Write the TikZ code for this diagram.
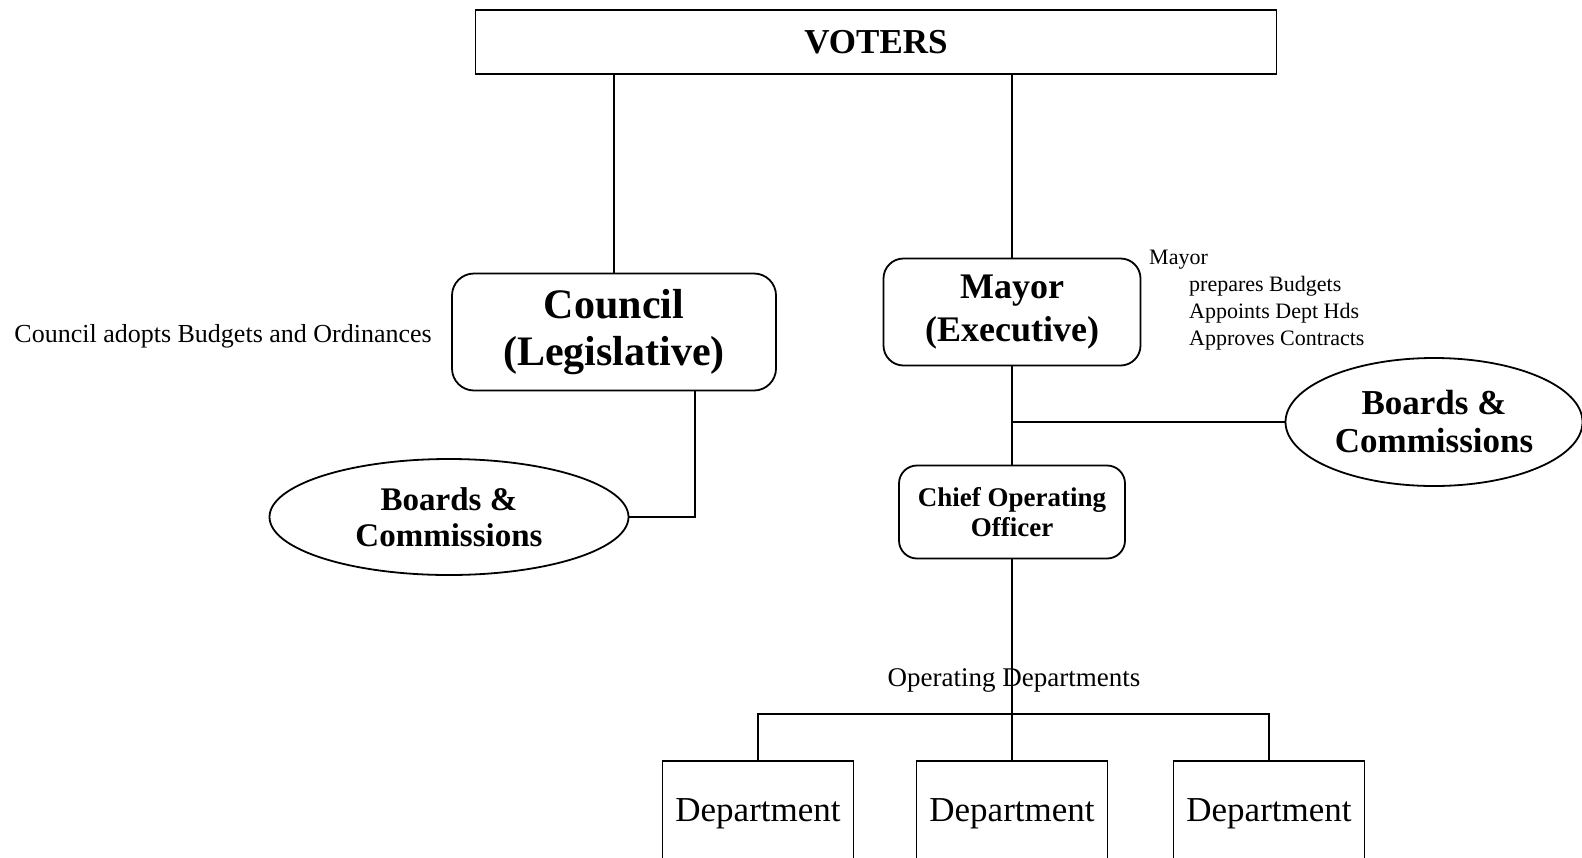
\documentclass[tikz,border=0pt]{standalone}
\usepackage{fontspec}
\setmainfont{Liberation Serif}
\usetikzlibrary{shapes.geometric,calc}
\tikzstyle{box}=[draw,line width=1.8pt,align=center,inner sep=0pt]
\tikzstyle{office}=[box,rounded corners=22pt]
\tikzstyle{board}=[box,ellipse]
\tikzstyle{wire}=[line width=1.8pt]
\tikzstyle{note}=[inner sep=0pt,align=left]
\newcommand{\fsz}[2]{\fontsize{#1}{#2}\selectfont} % size and line spacing, in pt
\newcommand{\duty}{\hspace*{40pt}} % indent for the mayor's duties

\begin{document}
\begin{tikzpicture}[x=1pt,y=-1pt]
\clip (0,0) rectangle (1582,857);
% top
\node[box,minimum width=801pt,minimum height=64pt,font=\fsz{35}{40}\bfseries] (voters) at (876,42) {VOTERS};
% the two branches
\node[office,minimum width=324pt,minimum height=117pt,font=\fsz{42}{47}\bfseries] (council) at (614,332) {Council\\(Legislative)};
\node[office,rounded corners=20pt,minimum width=257pt,minimum height=107pt,font=\fsz{36}{43}\bfseries] (mayor) at (1012,312) {Mayor\\(Executive)};
\node[board,minimum width=359pt,minimum height=116pt,font=\fsz{33}{36}\bfseries] (lboards) at (449,517) {Boards \&\\Commissions};
\node[board,minimum width=297pt,minimum height=128pt,font=\fsz{35}{38}\bfseries] (rboards) at (1434,422) {Boards \&\\Commissions};
\node[office,rounded corners=18pt,minimum width=226pt,minimum height=93pt,font=\fsz{27}{30}\bfseries] (coo) at (1012,512) {Chief Operating\\Officer};
% notes
\node[note,anchor=east,font=\fsz{26}{30}] (councilnote) at (432,336) {Council adopts Budgets and Ordinances};
\node[note,anchor=north west,font=\fsz{22}{27}] (mayornote) at (1149,250) {Mayor\\\duty prepares Budgets\\\duty Appoints Dept Hds\\\duty Approves Contracts};
\node[note,font=\fsz{27}{30}] (opslabel) at (1014,680) {Operating Departments};
% departments
\foreach \i/\x in {1/758,2/1012,3/1269}
  \node[box,anchor=north,minimum width=191pt,minimum height=106pt,font=\fsz{35}{40}] (dept\i) at (\x,760) {Department};
\coordinate (cturn) at (695,518);
\coordinate (bar) at (1012,714);
% connectors
\draw[wire] (council.north |- voters.south) -- (council.north);
\draw[wire] (mayor.north |- voters.south) -- (mayor.north);
\draw[wire] (council.south -| cturn) |- (lboards.east);
\draw[wire] (mayor.south) -- (coo.north);
\draw[wire] (mayor.south |- rboards.west) -- (rboards.west);
\draw[wire] (coo.south) -- (dept2.north);
\draw[wire] (dept1.north) -- (dept1.north |- bar) -- (dept3.north |- bar) -- (dept3.north);
\end{tikzpicture}
\end{document}
